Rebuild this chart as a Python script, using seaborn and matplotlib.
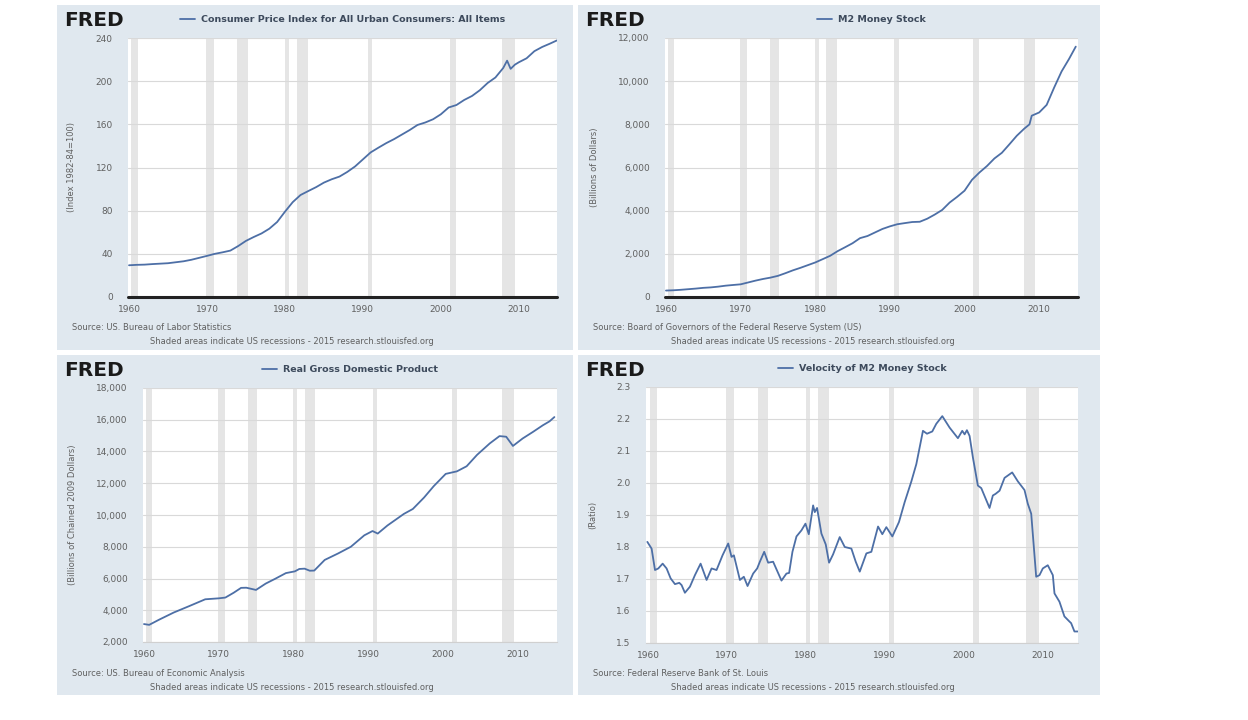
import matplotlib
matplotlib.use("Agg")
import matplotlib.pyplot as plt
import seaborn as sns
import pandas as pd
from matplotlib.ticker import FuncFormatter

sns.set_theme(style="white")
plt.rcParams['font.family'] = ['DejaVu Sans']

# ---------------- data ----------------
recessions = [(1960.3, 1961.1), (1969.9, 1970.9), (1973.9, 1975.2), (1980.0, 1980.5),
              (1981.5, 1982.9), (1990.6, 1991.2), (2001.2, 2001.9), (2007.9, 2009.5)]

cpi_years = [1960, 1961, 1962, 1963, 1964, 1965, 1966, 1967, 1968, 1969, 1970, 1971, 1972,
             1973, 1974, 1975, 1976, 1977, 1978, 1979, 1980, 1981, 1982, 1983, 1984, 1985,
             1986, 1987, 1988, 1989, 1990, 1991, 1992, 1993, 1994, 1995, 1996, 1997, 1998,
             1999, 2000, 2001, 2002, 2003, 2004, 2005, 2006, 2007, 2008, 2008.5, 2008.95,
             2009.5, 2010, 2011, 2012, 2013, 2014, 2014.9]
cpi_values = [29.4, 29.8, 30.0, 30.5, 30.9, 31.3, 32.2, 33.1, 34.5, 36.3, 38.1, 40.0, 41.4,
              43.0, 47.2, 52.0, 55.6, 58.9, 63.3, 69.5, 79.0, 87.9, 94.5, 98.2, 101.8, 106.0,
              109.1, 111.6, 115.9, 121.0, 127.5, 134.0, 138.4, 142.6, 146.3, 150.5, 154.7,
              159.4, 161.7, 164.7, 169.3, 175.6, 177.9, 182.6, 186.3, 191.6, 198.3, 203.4,
              212.2, 219.0, 211.4, 215.3, 217.5, 221.2, 227.8, 231.7, 234.8, 237.8]

m2_years = [1960, 1961, 1962, 1963, 1964, 1965, 1966, 1967, 1968, 1969, 1970, 1971, 1972,
            1973, 1974, 1975, 1976, 1977, 1978, 1979, 1980, 1981, 1982, 1983, 1984, 1985,
            1986, 1987, 1988, 1989, 1990, 1991, 1992, 1993, 1994, 1995, 1996, 1997, 1998,
            1999, 2000, 2001, 2002, 2003, 2004, 2005, 2006, 2007, 2008, 2008.7, 2009, 2010,
            2011, 2012, 2013, 2014, 2014.9]
m2_values = [299, 312, 334, 362, 390, 424, 445, 480, 525, 557, 587, 673, 759, 835, 898, 980,
             1103, 1235, 1350, 1475, 1600, 1754, 1910, 2125, 2306, 2492, 2727, 2826, 2990,
             3153, 3273, 3372, 3424, 3474, 3486, 3627, 3818, 4032, 4375, 4638, 4925, 5430,
             5770, 6067, 6418, 6681, 7071, 7471, 7800, 8000, 8400, 8550, 8900, 9700, 10450,
             11030, 11600]

gdp_years = [1960.0, 1960.7, 1962.0, 1964.0, 1966.0, 1968.2, 1970.0, 1970.9, 1972.0, 1973.0,
             1973.7, 1975.0, 1976.3, 1977.6, 1979.0, 1980.2, 1980.8, 1981.5, 1982.2, 1982.8,
             1984.2, 1986.0, 1987.7, 1989.5, 1990.6, 1991.3, 1992.6, 1994.8, 1996.0, 1997.5,
             1998.8, 2000.4, 2001.9, 2003.2, 2004.6, 2006.3, 2007.6, 2008.5, 2009.4, 2010.7,
             2012.1, 2013.4, 2014.3, 2014.95]
gdp_values = [3130, 3080, 3400, 3860, 4250, 4690, 4750, 4800, 5100, 5410, 5420, 5280, 5680,
              5990, 6340, 6450, 6600, 6620, 6490, 6500, 7170, 7580, 8000, 8720, 8990, 8830,
              9340, 10070, 10380, 11100, 11820, 12590, 12750, 13070, 13790, 14510, 14970,
              14930, 14350, 14820, 15240, 15650, 15900, 16170]

vel_years = [1959.92, 1960.46, 1960.89, 1961.31, 1961.86, 1962.36, 1962.87, 1963.42, 1963.97,
             1964.26, 1964.68, 1965.32, 1965.95, 1966.67, 1967.43, 1968.06, 1968.69, 1969.45,
             1970.17, 1970.59, 1970.89, 1971.65, 1972.15, 1972.62, 1973.33, 1973.84, 1974.18,
             1974.73, 1975.23, 1975.86, 1976.92, 1977.55, 1977.89, 1978.31, 1978.82, 1979.45,
             1979.96, 1980.38, 1980.93, 1981.14, 1981.43, 1981.98, 1982.53, 1982.95, 1983.46,
             1984.30, 1984.94, 1985.78, 1986.33, 1986.84, 1987.68, 1988.31, 1989.16, 1989.70,
             1990.21, 1990.97, 1991.81, 1992.53, 1993.38, 1994.01, 1994.85, 1995.36, 1996.03,
             1996.54, 1997.30, 1998.23, 1999.28, 1999.83, 2000.13, 2000.42, 2000.76, 2001.18,
             2001.81, 2002.24, 2003.29, 2003.71, 2004.05, 2004.56, 2005.19, 2006.16, 2006.88,
             2007.72, 2008.14, 2008.57, 2009.20, 2009.62, 2010.04, 2010.67, 2011.31, 2011.52,
             2012.15, 2012.78, 2013.42, 2013.63, 2014.05, 2014.47]
vel_values = [1.816, 1.795, 1.728, 1.733, 1.748, 1.733, 1.702, 1.684, 1.688, 1.681, 1.657,
              1.676, 1.712, 1.748, 1.697, 1.733, 1.728, 1.774, 1.811, 1.769, 1.774, 1.697,
              1.707, 1.678, 1.717, 1.733, 1.754, 1.785, 1.751, 1.754, 1.695, 1.717, 1.719,
              1.785, 1.833, 1.852, 1.873, 1.840, 1.930, 1.909, 1.922, 1.842, 1.808, 1.751,
              1.777, 1.831, 1.800, 1.795, 1.754, 1.723, 1.780, 1.785, 1.864, 1.840, 1.862,
              1.833, 1.878, 1.940, 2.005, 2.059, 2.163, 2.154, 2.161, 2.185, 2.209, 2.173,
              2.140, 2.163, 2.152, 2.165, 2.147, 2.080, 1.992, 1.984, 1.922, 1.961, 1.966,
              1.976, 2.016, 2.033, 2.005, 1.978, 1.935, 1.904, 1.707, 1.712, 1.733, 1.743,
              1.712, 1.655, 1.629, 1.583, 1.567, 1.562, 1.536, 1.536]

x_ticks = [1960, 1970, 1980, 1990, 2000, 2010]

panels = [
    dict(title="Consumer Price Index for All Urban Consumers: All Items",
         ylabel="(Index 1982-84=100)", x=cpi_years, y=cpi_values,
         yticks=[0, 40, 80, 120, 160, 200, 240], ylim=(0, 240), fmt="int",
         xlim=(1959.87, 2014.9), zero=True,
         source="Source: US. Bureau of Labor Statistics"),
    dict(title="M2 Money Stock", ylabel="(Billions of Dollars)", x=m2_years, y=m2_values,
         yticks=[0, 2000, 4000, 6000, 8000, 10000, 12000], ylim=(0, 12000), fmt="comma",
         xlim=(1959.87, 2015.2), zero=True,
         source="Source: Board of Governors of the Federal Reserve System (US)"),
    dict(title="Real Gross Domestic Product", ylabel="(Billions of Chained 2009 Dollars)",
         x=gdp_years, y=gdp_values,
         yticks=[2000, 4000, 6000, 8000, 10000, 12000, 14000, 16000, 18000],
         ylim=(2000, 18000), fmt="comma", xlim=(1959.87, 2015.3), zero=False,
         source="Source: US. Bureau of Economic Analysis"),
    dict(title="Velocity of M2 Money Stock", ylabel="(Ratio)", x=vel_years, y=vel_values,
         yticks=[1.5, 1.6, 1.7, 1.8, 1.9, 2.0, 2.1, 2.2, 2.3], ylim=(1.5, 2.3), fmt="dec",
         xlim=(1959.75, 2014.5), zero=False,
         source="Source: Federal Reserve Bank of St. Louis"),
]

# ---------------- layout ----------------
W, H = 1248, 720
fig = plt.figure(figsize=(W / 100, H / 100), dpi=100)
fig.patch.set_facecolor("white")

bg_boxes = [(57, 5, 573, 350), (578, 5, 1100, 350), (57, 355, 573, 695), (578, 355, 1100, 695)]
ax_boxes = [(128, 38, 557, 297), (665, 38, 1078, 297), (143, 388, 557, 642), (646, 387, 1078, 643)]

BG = "#e0e8ef"
LINE = "#4d6fa6"
TXT = "#606060"

def frac(box):
    x0, y0, x1, y1 = box
    return [x0 / W, 1 - y1 / H, (x1 - x0) / W, (y1 - y0) / H]

for p, bgb, axb in zip(panels, bg_boxes, ax_boxes):
    bg = fig.add_axes(frac(bgb), zorder=0)
    bg.set_facecolor(BG)
    bg.set_xticks([]); bg.set_yticks([])
    for s in bg.spines.values():
        s.set_visible(False)

    ax = fig.add_axes(frac(axb), zorder=1)
    ax.set_facecolor("white")
    for (a, b) in recessions:
        ax.axvspan(a, b, color="#e5e5e5", lw=0, zorder=0.5)
    ax.set_yticks(p["yticks"])
    ax.yaxis.grid(True, color="#d9d9d9", lw=0.8, zorder=0.6)
    ax.xaxis.grid(False)
    df = pd.DataFrame({"year": p["x"], "value": p["y"]})
    sns.lineplot(data=df, x="year", y="value", ax=ax, color=LINE, lw=1.3,
                 label=p["title"], zorder=3)
    ax.set_xlim(*p["xlim"])
    ax.set_ylim(*p["ylim"])
    ax.set_xticks(x_ticks)
    if p["fmt"] == "comma":
        ax.yaxis.set_major_formatter(FuncFormatter(lambda v, _: f"{int(v):,}"))
    elif p["fmt"] == "dec":
        ax.yaxis.set_major_formatter(FuncFormatter(lambda v, _: f"{v:.1f}"))
    else:
        ax.yaxis.set_major_formatter(FuncFormatter(lambda v, _: f"{int(v)}"))
    ax.tick_params(axis="both", labelsize=6.5, colors=TXT, length=0, pad=11)
    ax.tick_params(axis="x", length=4, color="#cccccc", width=0.8, pad=2)
    ax.set_xlabel("")
    ax.set_ylabel(p["ylabel"], fontsize=6, color=TXT, labelpad=14)
    for s in ax.spines.values():
        s.set_visible(False)
    if p["zero"]:
        ax.axhline(p["ylim"][0], color="#222222", lw=2.2, zorder=4, clip_on=False)
    else:
        ax.spines["bottom"].set_visible(True)
        ax.spines["bottom"].set_color("#d0d0d0")
        ax.spines["bottom"].set_linewidth(0.8)

    leg = ax.legend(loc="lower center", bbox_to_anchor=(0.5, 1.04), frameon=False,
                    prop={"size": 6.8, "weight": "bold"}, handlelength=1.6,
                    handletextpad=0.6, borderaxespad=0)
    for t in leg.get_texts():
        t.set_color("#3d4a5c")

    x0, y0, x1, y1 = bgb
    fig.text((x0 + 7) / W, 1 - (y0 + 16) / H, "FRED", fontsize=14.5, weight="black",
             color="#1a1a1a", va="center", ha="left")
    fig.text((x0 + 15) / W, 1 - (y1 - 22) / H, p["source"], fontsize=6, color=TXT,
             va="center", ha="left")
    fig.text((x0 + 93) / W, 1 - (y1 - 8) / H,
             "Shaded areas indicate US recessions - 2015 research.stlouisfed.org",
             fontsize=6, color=TXT, va="center", ha="left")

fig.savefig("out.png", dpi=100, facecolor="white")
